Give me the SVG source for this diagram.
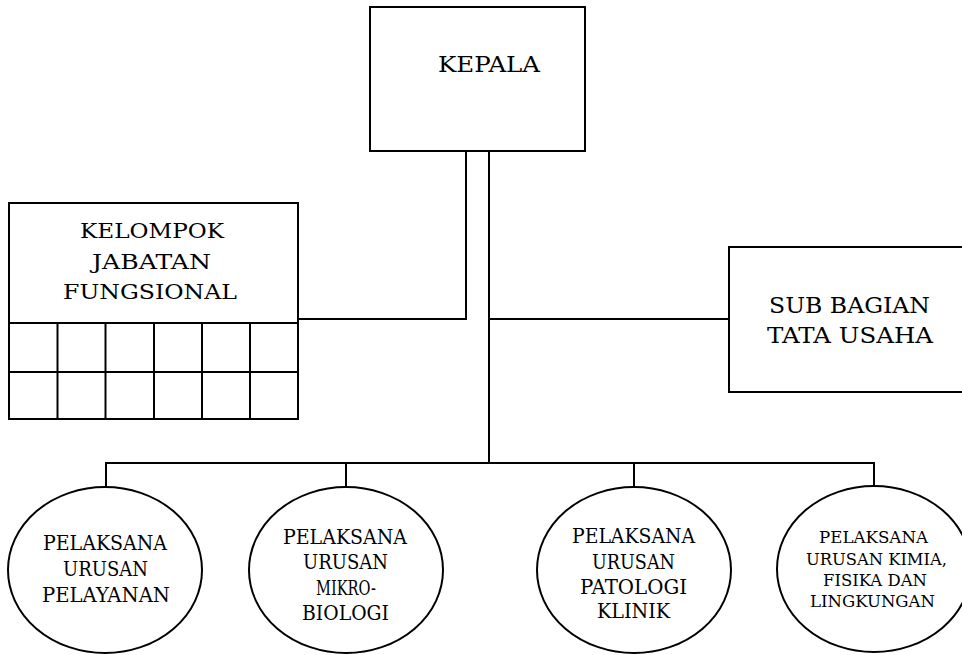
<svg xmlns="http://www.w3.org/2000/svg" width="962" height="655" viewBox="0 0 962 655">
<style>
.box{fill:#fff;stroke:#000;stroke-width:2}
.ln{fill:none;stroke:#000;stroke-width:2}
text{fill:#000;text-anchor:middle;font-family:'DejaVu Serif','Liberation Serif',serif}
.t23{font-size:23px}
.t22{font-size:22px}
.t21{font-size:21px}
.t20{font-size:20px}
.t16{font-size:16.5px}
</style>
<rect width="962" height="655" fill="#fff"/>
<g id="connectors">
<polyline class="ln" points="466,151 466,319 298,319"/>
<line class="ln" x1="489" y1="151" x2="489" y2="463"/>
<line class="ln" x1="489" y1="319" x2="729" y2="319"/>
<line class="ln" x1="106" y1="463" x2="874" y2="463"/>
<line class="ln" x1="106" y1="462" x2="106" y2="487"/>
<line class="ln" x1="346" y1="462" x2="346" y2="487"/>
<line class="ln" x1="634" y1="462" x2="634" y2="487"/>
<line class="ln" x1="874" y1="462" x2="874" y2="487"/>
</g>
<g id="kepala">
<rect class="box" x="370" y="7" width="215" height="144"/>
<text class="t23" x="489" y="72" textLength="102" lengthAdjust="spacingAndGlyphs">KEPALA</text>
</g>
<g id="kelompok">
<rect class="box" x="9" y="203" width="289" height="216"/>
<line class="ln" x1="9" y1="323" x2="298" y2="323"/>
<line class="ln" x1="9" y1="372" x2="298" y2="372"/>
<line class="ln" x1="57.5" y1="323" x2="57.5" y2="419"/>
<line class="ln" x1="105.5" y1="323" x2="105.5" y2="419"/>
<line class="ln" x1="154" y1="323" x2="154" y2="419"/>
<line class="ln" x1="202" y1="323" x2="202" y2="419"/>
<line class="ln" x1="250" y1="323" x2="250" y2="419"/>
<text class="t21" x="152" y="238" textLength="144" lengthAdjust="spacingAndGlyphs">KELOMPOK</text>
<text class="t21" x="151.5" y="269" textLength="119" lengthAdjust="spacingAndGlyphs">JABATAN</text>
<text class="t21" x="150" y="299" textLength="174" lengthAdjust="spacingAndGlyphs">FUNGSIONAL</text>
</g>
<g id="subbagian">
<rect class="box" x="729" y="247" width="245" height="145"/>
<text class="t22" x="849.5" y="313" textLength="161" lengthAdjust="spacingAndGlyphs">SUB BAGIAN</text>
<text class="t22" x="850" y="343" textLength="166" lengthAdjust="spacingAndGlyphs">TATA USAHA</text>
</g>
<g id="pelayanan">
<ellipse class="box" cx="105" cy="570" rx="97" ry="83"/>
<text class="t20" x="105" y="550" textLength="124" lengthAdjust="spacingAndGlyphs">PELAKSANA</text>
<text class="t20" x="105.5" y="576" textLength="85" lengthAdjust="spacingAndGlyphs">URUSAN</text>
<text class="t20" x="106" y="602" textLength="128" lengthAdjust="spacingAndGlyphs">PELAYANAN</text>
</g>
<g id="mikrobiologi">
<ellipse class="box" cx="346" cy="570" rx="97" ry="83"/>
<text class="t20" x="345" y="544" textLength="124" lengthAdjust="spacingAndGlyphs">PELAKSANA</text>
<text class="t20" x="345.5" y="569" textLength="85" lengthAdjust="spacingAndGlyphs">URUSAN</text>
<text class="t20" x="346" y="595" textLength="60" lengthAdjust="spacingAndGlyphs">MIKRO-</text>
<text class="t20" x="345.5" y="620" textLength="87" lengthAdjust="spacingAndGlyphs">BIOLOGI</text>
</g>
<g id="patologi">
<ellipse class="box" cx="634" cy="570" rx="97" ry="83"/>
<text class="t20" x="633.5" y="543" textLength="123" lengthAdjust="spacingAndGlyphs">PELAKSANA</text>
<text class="t20" x="633.5" y="569" textLength="83" lengthAdjust="spacingAndGlyphs">URUSAN</text>
<text class="t20" x="633.5" y="594" textLength="107" lengthAdjust="spacingAndGlyphs">PATOLOGI</text>
<text class="t20" x="633.5" y="618" textLength="73" lengthAdjust="spacingAndGlyphs">KLINIK</text>
</g>
<g id="kimia">
<ellipse class="box" cx="874" cy="569" rx="97" ry="83"/>
<text class="t16" x="873.5" y="543" textLength="109" lengthAdjust="spacingAndGlyphs">PELAKSANA</text>
<text class="t16" x="876.5" y="565" textLength="141" lengthAdjust="spacingAndGlyphs">URUSAN KIMIA,</text>
<text class="t16" x="875" y="586" textLength="104" lengthAdjust="spacingAndGlyphs">FISIKA DAN</text>
<text class="t16" x="872.5" y="607" textLength="125" lengthAdjust="spacingAndGlyphs">LINGKUNGAN</text>
</g>
</svg>
